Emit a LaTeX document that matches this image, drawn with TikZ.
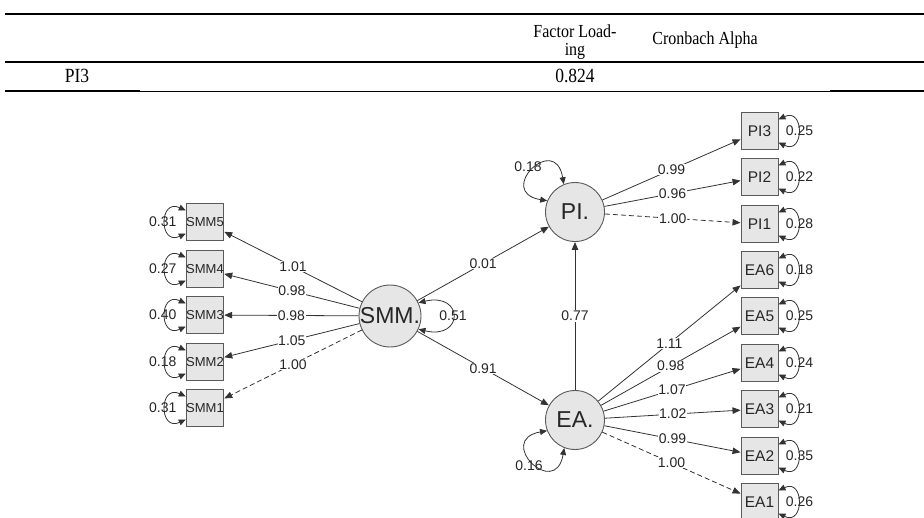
\documentclass[tikz,border=0pt]{standalone}
\usepackage{fontspec}
\usepackage{graphicx}
\setmainfont{Liberation Serif}
\newfontfamily\diagfont{Liberation Sans}
\usetikzlibrary{arrows.meta,calc}
\definecolor{boxfill}{HTML}{E6E6E6}
\definecolor{edgecol}{HTML}{333333}
\definecolor{bordercol}{HTML}{5A5A5A}
\definecolor{textcol}{HTML}{262626}
\newcommand\tall[1]{\scalebox{1}[1.15]{#1}}
\newcommand\lvar[2]{%
  \node[vlab] (#1v) at ([xshift=-23pt]#1.west) {#2};
  \draw[varr] ([yshift=11.5pt]#1.west) .. controls ([shift={(-27pt,24pt)}]#1.west) and ([shift={(-27pt,-24pt)}]#1.west) .. ([yshift=-11.5pt]#1.west);}
\newcommand\rvar[2]{%
  \node[vlab] (#1v) at ([xshift=21pt]#1.east) {#2};
  \draw[varr] ([yshift=11.5pt]#1.east) .. controls ([shift={(26pt,24pt)}]#1.east) and ([shift={(26pt,-24pt)}]#1.east) .. ([yshift=-11.5pt]#1.east);}
\begin{document}
\begin{tikzpicture}[x=1pt,y=1pt,
  tabtext/.style={inner sep=0pt, font=\fontsize{16}{16}\selectfont},
  rowtext/.style={inner sep=0pt, font=\fontsize{17.5}{17.5}\selectfont},
  lat/.style={circle, draw=bordercol, fill=boxfill, line width=0.9pt, minimum size=59pt, inner sep=0pt, text=textcol, font=\diagfont\fontsize{23}{23}\selectfont},
  man/.style={rectangle, draw=bordercol, fill=boxfill, line width=0.9pt, minimum width=37pt, minimum height=37pt, inner sep=0pt, text=textcol, font=\diagfont\fontsize{15.5}{15.5}\selectfont},
  mans/.style={man, font=\diagfont\fontsize{13}{13}\selectfont},
  lab/.style={fill=white, inner sep=0.6pt, text=textcol, font=\diagfont\fontsize{14}{14}\selectfont},
  vlab/.style={inner sep=0pt, text=textcol, font=\diagfont\fontsize{14}{14}\selectfont},
  arr/.style={draw=edgecol, line width=0.8pt, -{Triangle[length=8pt,width=6.5pt]}},
  darr/.style={arr, dash pattern=on 5pt off 3pt},
  varr/.style={draw=edgecol, line width=0.8pt, {Triangle[length=7pt,width=6pt]}-{Triangle[length=7pt,width=6pt]}},
]
\useasboundingbox (0,0) rectangle (924,-517);
% ---- table ----
\draw[line width=1.5pt] (5,-14) -- (924,-14);
\node[tabtext, anchor=base] (h1) at (575,-37) {\tall{Factor Load-}};
\node[tabtext, anchor=base] (h2) at (575,-55) {\tall{ing}};
\node[tabtext] (h3) at (705,-40) {\tall{Cronbach Alpha}};
\draw[line width=1.1pt] (5,-62) -- (924,-62);
\node[rowtext] (r1) at (77,-76) {\tall{PI3}};
\node[rowtext] (r2) at (575,-76) {\tall{0.824}};
\draw[line width=1.6pt] (5,-91) -- (140,-91);
\draw[line width=0.8pt] (140,-91) -- (830,-91);
\draw[line width=1.6pt] (830,-91) -- (924,-91);
% ---- latent ----
\node[lat] (SMM) at (390,-316) {SMM.};
\node[lat] (PI) at (575,-212) {PI.};
\node[lat] (EA) at (575,-420) {EA.};
% ---- manifest left ----
\node[mans] (SMM5) at (205,-222) {SMM5};
\node[mans] (SMM4) at (205,-269) {SMM4};
\node[mans] (SMM3) at (205,-315) {SMM3};
\node[mans] (SMM2) at (205,-362) {SMM2};
\node[mans] (SMM1) at (205,-408) {SMM1};
% ---- manifest right ----
\node[man] (PI3) at (759.5,-131) {PI3};
\node[man] (PI2) at (759.5,-177) {PI2};
\node[man] (PI1) at (759.5,-224) {PI1};
\node[man] (EA6) at (759.5,-270) {EA6};
\node[man] (EA5) at (759.5,-316) {EA5};
\node[man] (EA4) at (759.5,-363) {EA4};
\node[man] (EA3) at (759.5,-409) {EA3};
\node[man] (EA2) at (759.5,-456) {EA2};
\node[man] (EA1) at (759.5,-502) {EA1};
% ---- loadings ----
\draw[arr] (SMM) -- node[lab] {1.01} (SMM5);
\draw[arr] (SMM) -- node[lab] {0.98} (SMM4);
\draw[arr] (SMM) -- node[lab] {0.98} (SMM3);
\draw[arr] (SMM) -- node[lab] {1.05} (SMM2);
\draw[darr] (SMM) -- node[lab] {1.00} (SMM1);
\draw[arr] (PI) -- node[lab] {0.99} (PI3);
\draw[arr] (PI) -- node[lab] {0.96} (PI2);
\draw[darr] (PI) -- node[lab] {1.00} (PI1);
\draw[arr] (EA) -- node[lab] {1.11} (EA6);
\draw[arr] (EA) -- node[lab] {0.98} (EA5);
\draw[arr] (EA) -- node[lab] {1.07} (EA4);
\draw[arr] (EA) -- node[lab] {1.02} (EA3);
\draw[arr] (EA) -- node[lab] {0.99} (EA2);
\draw[darr] (EA) -- node[lab] {1.00} (EA1);
% ---- structural ----
\draw[arr] (SMM) -- node[lab] {0.01} (PI);
\draw[arr] (SMM) -- node[lab] {0.91} (EA);
\draw[arr] (EA) -- node[lab] {0.77} (PI);
% ---- residual variances ----
\lvar{SMM5}{0.31}
\lvar{SMM4}{0.27}
\lvar{SMM3}{0.40}
\lvar{SMM2}{0.18}
\lvar{SMM1}{0.31}
\rvar{PI3}{0.25}
\rvar{PI2}{0.22}
\rvar{PI1}{0.28}
\rvar{EA6}{0.18}
\rvar{EA5}{0.25}
\rvar{EA4}{0.24}
\rvar{EA3}{0.21}
\rvar{EA2}{0.35}
\rvar{EA1}{0.26}
% ---- latent variances ----
\node[vlab] (SMMv) at ($(SMM)+(63,0)$) {0.51};
\draw[varr] (SMM.25) .. controls ($(SMM)+(74,24)$) and ($(SMM)+(74,-24)$) .. (SMM.-25);
\node[vlab] (PIv) at ($(PI)+(-47,45)$) {0.18};
\draw[varr] (PI.158) .. controls ($(PI)+(-80,20)$) and ($(PI)+(-20,80)$) .. (PI.112);
\node[vlab] (EAv) at ($(EA)+(-46,-46)$) {0.16};
\draw[varr] (EA.-159) .. controls ($(EA)+(-80,-20)$) and ($(EA)+(-20,-80)$) .. (EA.-111);
\end{tikzpicture}
\end{document}
